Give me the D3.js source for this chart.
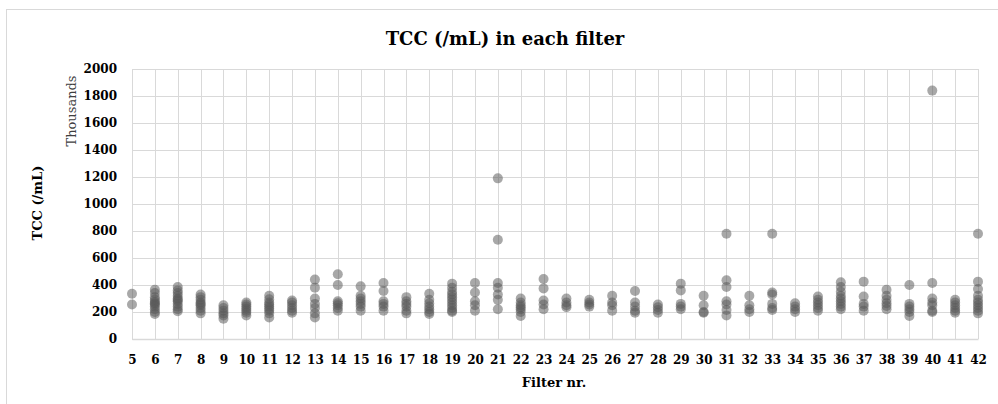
<!DOCTYPE html>
<html>
<head>
<meta charset="utf-8">
<script src="https://cdn.jsdelivr.net/npm/d3@7"></script>
<style>
  body { margin: 0; background: #fff; }
  svg text { font-family: "DejaVu Serif", serif; }
</style>
</head>
<body>
<svg id="chart"></svg>
<script>
// filter numbers on the x axis
var filters = [5,6,7,8,9,10,11,12,13,14,15,16,17,18,19,20,21,22,23,
  24,25,26,27,28,29,30,31,32,33,34,35,36,37,38,39,40,41,42];

// TCC values in thousands (/mL), one list per filter
var tcc = [
  [335, 255],
  [365, 340, 310, 290, 275, 265, 255, 240, 220, 200, 185],
  [385, 360, 340, 320, 300, 290, 280, 260, 240, 220, 205],
  [330, 310, 290, 270, 260, 250, 230, 210, 190],
  [250, 230, 210, 190, 175, 150],
  [270, 255, 240, 225, 210, 195, 175],
  [320, 295, 270, 255, 240, 225, 210, 190, 160],
  [285, 270, 250, 230, 210, 195],
  [440, 380, 300, 260, 230, 190, 160],
  [480, 400, 280, 265, 250, 230, 210],
  [390, 320, 300, 280, 260, 240, 210],
  [415, 355, 280, 260, 240, 210],
  [310, 280, 260, 240, 210, 190],
  [335, 290, 265, 240, 220, 200, 185],
  [410, 380, 350, 330, 310, 290, 270, 250, 230, 210, 200],
  [415, 345, 280, 250, 210],
  [1190, 735, 415, 380, 330, 290, 220],
  [300, 270, 250, 235, 220, 200, 170],
  [445, 375, 285, 255, 220],
  [300, 270, 250, 235],
  [290, 270, 255, 240],
  [320, 270, 250, 210],
  [355, 270, 240, 210, 195],
  [255, 235, 215, 195],
  [410, 360, 260, 240, 220],
  [320, 250, 200, 195],
  [780, 435, 385, 280, 255, 215, 175],
  [320, 250, 220, 200],
  [780, 345, 330, 260, 230, 215],
  [265, 240, 220, 200],
  [315, 290, 270, 250, 230, 210],
  [420, 385, 350, 320, 300, 280, 260, 240, 220],
  [425, 315, 260, 240, 210],
  [365, 320, 290, 265, 245, 220],
  [400, 260, 240, 220, 200, 170],
  [1840, 415, 300, 270, 250, 210, 200],
  [290, 270, 250, 230, 210, 195],
  [780, 425, 370, 320, 290, 270, 250, 230, 210, 190]
];

var yTicks = [0, 200, 400, 600, 800, 1000, 1200, 1400, 1600, 1800, 2000];

var width = 998, height = 404;

var svg = d3.select("#chart")
  .attr("width", width)
  .attr("height", height);

// chart frame
svg.append("rect")
  .attr("x", 6.5).attr("y", 9.5)
  .attr("width", 1000).attr("height", 400)
  .attr("fill", "#fff")
  .attr("stroke", "#d9d9d9");

var x = d3.scaleLinear().domain([5, 42]).range([132, 978]);
var y = d3.scaleLinear().domain([0, 2000]).range([339, 69]);

// gridlines
svg.append("g")
  .selectAll("line")
  .data(yTicks)
  .enter().append("line")
    .attr("x1", x(5)).attr("x2", x(42))
    .attr("y1", function(d) { return Math.round(y(d)) + 0.5; })
    .attr("y2", function(d) { return Math.round(y(d)) + 0.5; })
    .attr("stroke", "#d9d9d9");

svg.append("g")
  .selectAll("line")
  .data(filters)
  .enter().append("line")
    .attr("x1", function(d) { return Math.round(x(d)) + 0.5; })
    .attr("x2", function(d) { return Math.round(x(d)) + 0.5; })
    .attr("y1", y(2000)).attr("y2", y(0))
    .attr("stroke", "#d9d9d9");

// axes, drawn with d3 and then stripped of domain/ticks
var xAxis = svg.append("g")
  .attr("transform", "translate(0," + y(0) + ")")
  .call(d3.axisBottom(x).tickValues(filters).tickSize(0).tickPadding(16).tickFormat(d3.format("d")));
xAxis.select(".domain").attr("stroke", "#d9d9d9").attr("stroke-width", 1.5);
xAxis.selectAll("text")
  .attr("font-family", "DejaVu Serif")
  .attr("font-weight", "bold")
  .attr("font-size", 12)
  .attr("fill", "#000");

var yAxis = svg.append("g")
  .attr("transform", "translate(117,0)")
  .call(d3.axisLeft(y).tickValues(yTicks).tickSize(0).tickPadding(0).tickFormat(d3.format("d")));
yAxis.select(".domain").remove();
yAxis.selectAll("text")
  .attr("font-family", "DejaVu Serif")
  .attr("font-weight", "bold")
  .attr("font-size", 12)
  .attr("fill", "#000");

// points
var pts = [];
filters.forEach(function(f, i) {
  tcc[i].forEach(function(v) { pts.push({ f: f, v: v }); });
});

svg.append("g")
  .selectAll("circle")
  .data(pts)
  .enter().append("circle")
    .attr("cx", function(d) { return x(d.f); })
    .attr("cy", function(d) { return y(d.v); })
    .attr("r", 5)
    .attr("fill", "#595959")
    .attr("fill-opacity", 0.52);

// titles
svg.append("text")
  .attr("x", 505).attr("y", 45)
  .attr("text-anchor", "middle")
  .attr("font-weight", "bold")
  .attr("font-size", 18)
  .text("TCC (/mL) in each filter");

svg.append("text")
  .attr("x", 554).attr("y", 387)
  .attr("text-anchor", "middle")
  .attr("font-weight", "bold")
  .attr("font-size", 13)
  .text("Filter nr.");

svg.append("text")
  .attr("transform", "translate(42,203) rotate(-90)")
  .attr("text-anchor", "middle")
  .attr("font-weight", "bold")
  .attr("font-size", 13)
  .text("TCC (/mL)");

svg.append("text")
  .attr("transform", "translate(76,111) rotate(-90)")
  .attr("text-anchor", "middle")
  .attr("font-size", 13)
  .attr("fill", "#404040")
  .text("Thousands");
</script>
</body>
</html>
